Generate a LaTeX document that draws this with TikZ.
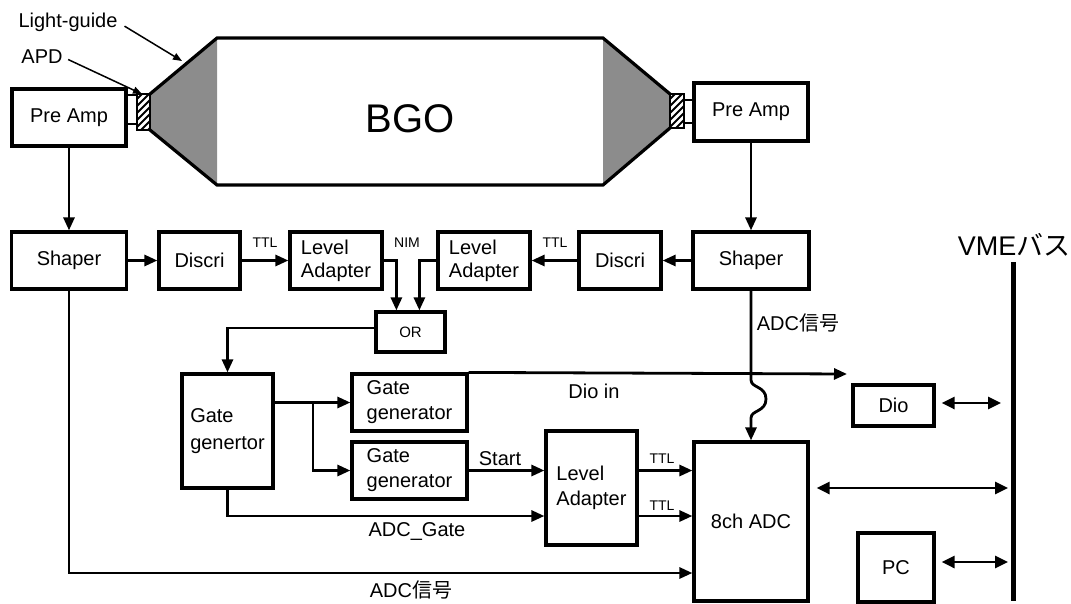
\documentclass[tikz,border=0pt]{standalone}
\usepackage{fontspec}
\setmainfont{Liberation Sans}
\newfontfamily\cjk{Noto Sans CJK JP}
\usetikzlibrary{arrows.meta,calc}
\begin{document}
\begin{tikzpicture}[x=1pt,y=-1pt,
  box/.style={draw, line width=3.2pt, inner sep=0pt, align=center, font=\fontsize{20}{24}\selectfont},
  lbl/.style={inner sep=0pt, font=\fontsize{20}{24}\selectfont},
  small/.style={inner sep=0pt, font=\fontsize{14}{16}\selectfont},
  conn/.style={line width=2.8pt},
  arr/.style={conn, -{Triangle[length=13pt,width=11pt]}},
  biarr/.style={conn, {Triangle[length=13pt,width=12pt]}-{Triangle[length=13pt,width=12pt]}},
  pointer/.style={line width=1.5pt, -{Triangle[length=9pt,width=7pt]}},
  lgfill/.style={fill={rgb,255:red,140;green,140;blue,140}},
  outline/.style={line width=3.2pt, line join=miter}
]
\useasboundingbox (0,0) rectangle (1071,603);

% ---- BGO crystal with light guides ----
\fill[lgfill] (150,94) -- (217,38) -- (217,185) -- (150,130) -- cycle;
\fill[lgfill] (603,38) -- (670,94) -- (670,128) -- (603,185) -- cycle;
\draw[outline] (150,94) -- (217,38) -- (603,38) -- (670,94);
\draw[outline] (150,130) -- (217,185) -- (603,185) -- (670,128);
\node[inner sep=0pt, font=\fontsize{40}{44}\selectfont] (bgo) at (410,119) {BGO};

% ---- APDs ----
\begin{scope}
  \clip (137,94) rectangle (150,130);
  \foreach \c in {92,99,...,160} \draw[line width=2pt] (137,\c) -- (157,{\c-20});
\end{scope}
\draw[line width=2.4pt] (137,94) rectangle (150,130);
\begin{scope}
  \clip (670,94) rectangle (684,128);
  \foreach \c in {92,99,...,160} \draw[line width=2pt] (670,\c) -- (690,{\c-20});
\end{scope}
\draw[line width=2.4pt] (670,94) rectangle (684,128);
% stubs between APD and pre amps
\draw[line width=2.4pt] (126,95) -- (137,95) (126,124) -- (137,124);
\draw[line width=2.4pt] (684,100) -- (694,100) (684,123) -- (694,123);

% ---- boxes ----
\node[box, minimum width=114pt, minimum height=57pt] (preL) at (69,117.5) {Pre Amp};
\node[box, minimum width=114pt, minimum height=58pt] (preR) at (751,112) {Pre Amp};
\node[box, minimum width=115pt, minimum height=57pt] (shL) at (69,260.5) {Shaper};
\node[box, minimum width=81pt, minimum height=57pt] (disL) at (199.5,260.5) {Discri};
\node[box, minimum width=92pt, minimum height=57pt, align=left, font=\fontsize{20}{23}\selectfont] (laL) at (336,260.5) {Level\\Adapter};
\node[box, minimum width=92pt, minimum height=57pt, align=left, font=\fontsize{20}{23}\selectfont] (laR) at (484,260.5) {Level\\Adapter};
\node[box, minimum width=82pt, minimum height=57pt] (disR) at (620,260.5) {Discri};
\node[box, minimum width=116pt, minimum height=57pt] (shR) at (751,260.5) {Shaper};
\node[box, minimum width=69pt, minimum height=40pt, font=\fontsize{15}{17}\selectfont] (OR) at (410.5,332) {OR};
\node[box, minimum width=91pt, minimum height=114pt, align=left, font=\fontsize{20}{27}\selectfont] (GGbig) at (227.5,431) {Gate\\genertor};
\node[box, minimum width=115pt, minimum height=57pt, align=left, font=\fontsize{20}{25}\selectfont] (GG1) at (409.5,402.5) {Gate\\generator};
\node[box, minimum width=115pt, minimum height=57pt, align=left, font=\fontsize{20}{25}\selectfont] (GG2) at (409.5,470.5) {Gate\\generator};
\node[box, minimum width=91pt, minimum height=114pt, align=left, font=\fontsize{20}{25}\selectfont] (LA3) at (591.5,488) {Level\\Adapter};
\node[box, minimum width=114pt, minimum height=159pt] (ADC) at (751,521.5) {8ch ADC};
\node[box, minimum width=81pt, minimum height=41pt] (Dio) at (893.5,405.5) {Dio};
\node[box, minimum width=76pt, minimum height=69pt] (PC) at (896,567.5) {PC};

% ---- free-end coordinates ----
\coordinate (dioin) at (847,374);
\coordinate (gateY) at (0,516);
\coordinate (sigY) at (0,573);
\coordinate (br) at (313,402.5);
\coordinate (busTop) at (1013,262);
\coordinate (busBot) at (1013,601);
\coordinate (busDio) at (1001,403);
\coordinate (busADC) at (1008,488);
\coordinate (busPC) at (1008,562);
\coordinate (lgTip) at (182,61);
\coordinate (apdTip) at (142,94);

% ---- connectors ----
\draw[arr] (preL.south) -- (shL.north);
\draw[arr] (shL) -- (disL);
\draw[arr] (disL) -- (laL);
\draw[arr] (laL.east) -| ($(OR.north west)+(22,0)$);
\draw[arr] (laR.west) -| ($(OR.north west)+(45,0)$);
\draw[arr] (disR) -- (laR);
\draw[arr] (shR) -- (disR);
\draw[arr] (preR.south) -- (shR.north);
\draw[arr] ($(OR.west)+(0,-4)$) -| (GGbig.north);
\draw[arr] (GGbig.east |- GG1.west) -- (GG1.west);
\draw[arr] (br) |- (GG2.west);
\draw[arr] (GG1.north east) -- (dioin);
\draw[arr] (GG2) -- (LA3.west |- GG2);
\draw[arr] (GGbig.south) |- (LA3.west |- gateY);
\draw[arr] (LA3.east |- GG2) -- (ADC.west |- GG2);
\draw[arr] (LA3.east |- gateY) -- (ADC.west |- gateY);
\draw[arr] (shL.south) |- (ADC.west |- sigY);
\draw[arr] (shR.south) -- (751,380) .. controls (751,388) and (766,386) .. (766,399)
   .. controls (766,412) and (751,410) .. (751,418) -- (ADC.north);

% ---- VME bus ----
\draw[line width=5pt] (busTop) -- (busBot);
\draw[biarr] ($(Dio.east |- busDio)+(6,0)$) -- (busDio);
\draw[biarr] ($(ADC.east |- busADC)+(7,0)$) -- (busADC);
\draw[biarr] ($(PC.east |- busPC)+(6,0)$) -- (busPC);

% ---- labels ----
\node[lbl] (lgT) at (68,22) {Light-guide};
\node[lbl] (apdT) at (42,57) {APD};
\draw[pointer, shorten <=8pt] (lgT.east) -- (lgTip);
\draw[pointer, shorten <=6pt] (apdT.east) -- (apdTip);
\node[small] (ttl1) at (265,243) {TTL};
\node[small] (nim) at (407,243) {NIM};
\node[small] (ttl2) at (555,243) {TTL};
\node[lbl] (adcsig1) at (798,323) {ADC{\cjk 信号}};
\node[inner sep=0pt, font=\fontsize{27}{30}\selectfont] (vme) at (1014,245) {VME{\cjk バス}};
\node[lbl] (dioinT) at (594,391) {Dio in};
\node[lbl] (startT) at (500,459) {Start};
\node[small] (ttl3) at (662,459) {TTL};
\node[small] (ttl4) at (662,506) {TTL};
\node[lbl] (gateT) at (417,531) {ADC\_Gate};
\node[lbl] (adcsig2) at (411,590) {ADC{\cjk 信号}};
\end{tikzpicture}
\end{document}
